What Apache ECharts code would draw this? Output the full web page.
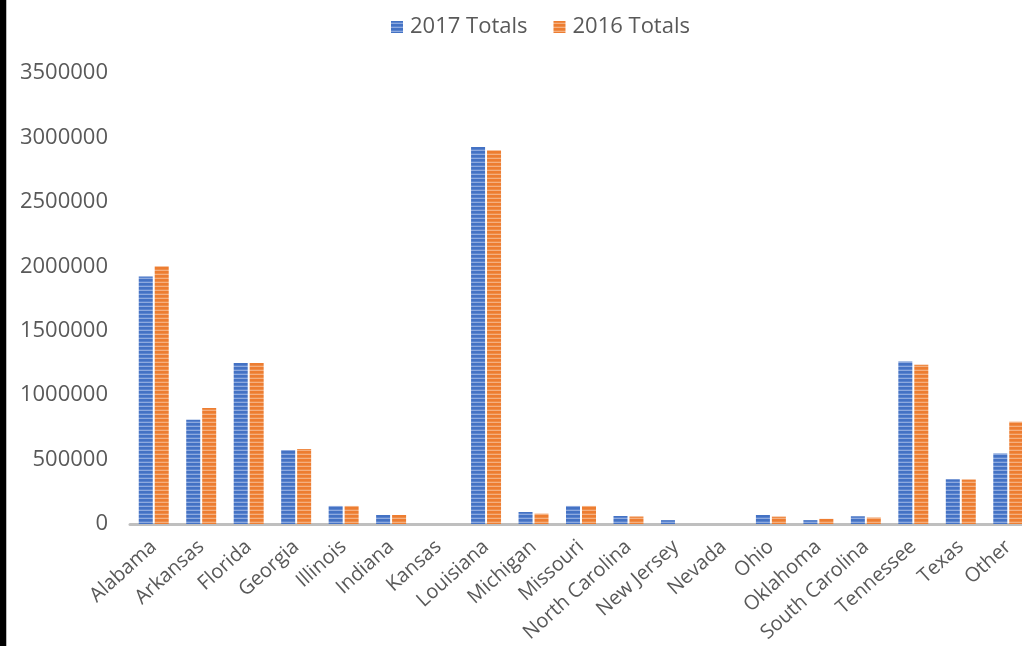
<!DOCTYPE html>
<html>
<head>
<meta charset="utf-8">
<script src="https://cdn.jsdelivr.net/npm/echarts@6/dist/echarts.min.js"></script>
<style>
html,body{margin:0;padding:0;background:#fff;}
#c{width:1022px;height:646px;}
</style>
</head>
<body>
<div id="c"></div>
<script>
const categories = ["Alabama","Arkansas","Florida","Georgia","Illinois","Indiana","Kansas","Louisiana","Michigan","Missouri","North Carolina","New Jersey","Nevada","Ohio","Oklahoma","South Carolina","Tennessee","Texas","Other"];
const totals2017 = [1920000,810000,1250000,575000,140000,70000,0,2925000,93000,140000,62000,30000,0,70000,30000,60000,1262000,347000,547000];
const totals2016 = [2000000,900000,1250000,583000,140000,70000,0,2900000,80000,140000,58000,0,0,57000,40000,50000,1236000,345000,793000];
const yTicks = [0,500000,1000000,1500000,2000000,2500000,3000000,3500000];

function stripe(dark, mid, light){
  const cv = document.createElement('canvas');
  cv.width = 4; cv.height = 4;
  const ctx = cv.getContext('2d');
  const rows = [dark, mid, light, dark];
  rows.forEach((c,i)=>{ctx.fillStyle=c; ctx.fillRect(0,i,4,1);});
  return {image: cv, repeat: 'repeat'};
}
const bluePat = stripe('#4472C4','#5a84cf','#8eaadf');
const orangePat = stripe('#ED7D31','#ef8c47','#f5b080');

const chart = echarts.init(document.getElementById('c'), null, {renderer:'canvas'});
const font = '"Open Sans", "Liberation Sans", sans-serif';
chart.setOption({
  animation:false,
  backgroundColor:'#fff',
  graphic:[
    {type:'rect', left:0, top:0, shape:{width:6, height:646}, style:{fill:'#000'}},
    {type:'rect', left:6, top:0, shape:{width:1, height:646}, style:{fill:'#bbb'}}
  ],
  legend:{
    top:11, left:386,
    itemWidth:12, itemHeight:12, itemGap:26,
    textStyle:{fontFamily:font, fontSize:22, color:'#595959', padding:[0,0,0,2]},
    data:[{name:'2017 Totals', icon:'rect'},{name:'2016 Totals', icon:'rect'}]
  },
  grid:{left:130, width:902, top:73, bottom:122, containLabel:false, outerBoundsMode:'none'},
  xAxis:{
    type:'category', data:categories,
    axisLine:{lineStyle:{color:'#BFBFBF', width:3}},
    axisTick:{show:false},
    axisLabel:{rotate:42, interval:0, margin:20, fontFamily:font, fontSize:20, color:'#595959'}
  },
  yAxis:{
    type:'value', min:0, max:3500000, interval:500000,
    splitLine:{show:false}, axisLine:{show:false}, axisTick:{show:false},
    axisLabel:{margin:22, fontFamily:font, fontSize:22, color:'#595959',
      formatter:v=> yTicks.includes(v) ? String(v) : ''}
  },
  series:[
    {name:'2017 Totals', type:'bar', data:totals2017, barWidth:14, barGap:'14%',
      itemStyle:{color:bluePat}},
    {name:'2016 Totals', type:'bar', data:totals2016, barWidth:14,
      itemStyle:{color:orangePat}}
  ]
});
</script>
</body>
</html>
